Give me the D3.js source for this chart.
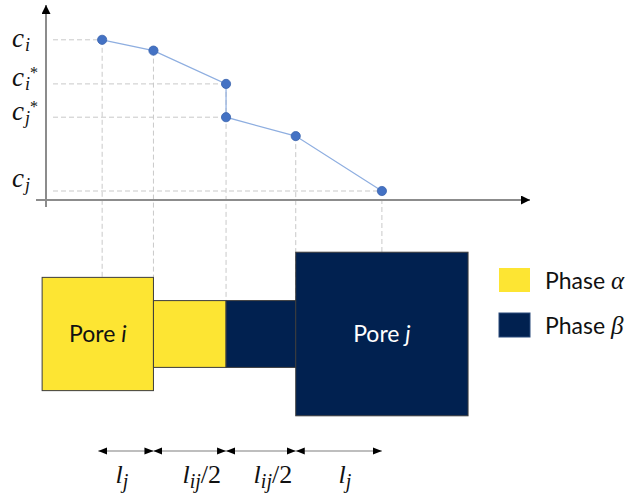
<!DOCTYPE html>
<html>
<head>
<meta charset="utf-8">
<script src="https://cdn.jsdelivr.net/npm/d3@7"></script>
<style>
  body { margin: 0; background: #fff; }
  svg { display: block; }
  .math { font-family: "Liberation Serif", serif; font-style: italic; }
  .txt { font-family: Lato, "Open Sans", sans-serif; }
</style>
</head>
<body>
<svg id="chart" width="631" height="498"></svg>
<script>
// concentration profile along the pore-throat-pore path
const pointX = [5.8, 11.1, 18.6, 18.6, 25.8, 34.7];
const pointC = [0.89, 0.83, 0.645, 0.46, 0.355, 0.05];

// labelled concentration levels (index into the points)
const levelIdx = [0, 2, 3, 5];
const levelSub = ["i", "i", "j", "j"];
const levelStar = [false, true, true, false];

// pore / throat segments
const segStart = [-0.4, 11.1, 18.6, 25.8];
const segEnd = [11.1, 18.6, 25.8, 43.6];
const segHalf = [5.85, 3.45, 3.45, 8.45];
const segPhase = ["alpha", "alpha", "beta", "beta"];
const segName = ["i", "", "", "j"];

// length annotations
const dimFrom = [5.4, 11.1, 18.6, 25.8];
const dimTo = [11.1, 18.6, 25.8, 34.7];
const dimSub = ["j", "ij", "ij", "j"];
const dimHalf = [false, true, true, false];

const phases = ["alpha", "beta"];
const phaseSymbol = ["α", "β"];
const phaseColor = { alpha: "#fde533", beta: "#012150" };

const svg = d3.select("#chart");

const x = d3.scaleLinear().domain([0, 50]).range([46, 530]);
const y = d3.scaleLinear().domain([0, 1]).range([200, 20]);
const yb = d3.scaleLinear().domain([-10, 10]).range([430.8, 237.2]);

const defs = svg.append("defs");
function marker(id, path, size) {
  defs.append("marker")
    .attr("id", id)
    .attr("viewBox", "0 0 10 10")
    .attr("refX", 10).attr("refY", 5)
    .attr("markerUnits", "userSpaceOnUse")
    .attr("markerWidth", size).attr("markerHeight", size)
    .attr("orient", "auto-start-reverse")
    .append("path").attr("d", path).attr("fill", "#000");
}
marker("dimHead", "M0,1 L10,5 L0,9 Z", 9);
marker("axisHead", "M0,0 L10,5 L0,10 Z", 9);

const pts = pointX.map((d, i) => ({ x: d, c: pointC[i] }));

//dashed guides
const guides = svg.append("g")
  .attr("stroke", "#c9c9c9")
  .attr("stroke-width", 1)
  .attr("stroke-dasharray", "5,3")
  .attr("fill", "none");

levelIdx.forEach(i => {
  guides.append("line")
    .attr("x1", x(0) + 7).attr("x2", x(pts[i].x))
    .attr("y1", y(pts[i].c)).attr("y2", y(pts[i].c));
});
pts.forEach((p, i) => {
  if (i === 3) return;
  guides.append("line")
    .attr("x1", x(p.x)).attr("x2", x(p.x))
    .attr("y1", y(p.c)).attr("y2", yb(0));
});

//axes
svg.append("line")
  .attr("x1", x(0) - 10).attr("x2", x(50))
  .attr("y1", y(0)).attr("y2", y(0))
  .attr("stroke", "#8c8c8c").attr("stroke-width", 2)
  .attr("marker-end", "url(#axisHead)");
svg.append("line")
  .attr("x1", x(0)).attr("x2", x(0))
  .attr("y1", y(0) + 7).attr("y2", 5)
  .attr("stroke", "#8c8c8c").attr("stroke-width", 2)
  .attr("marker-end", "url(#axisHead)");

//profile
const line = d3.line().x(d => x(d.x)).y(d => y(d.c));
svg.append("path")
  .attr("d", line(pts))
  .attr("fill", "none")
  .attr("stroke", "#8eaee0")
  .attr("stroke-width", 1.2);

svg.append("g").selectAll("circle")
  .data(pts)
  .join("circle")
  .attr("cx", d => x(d.x))
  .attr("cy", d => y(d.c))
  .attr("r", 4.6)
  .attr("fill", "#4472c4")
  .attr("stroke", "#3a63ad")
  .attr("stroke-width", 0.8);

//concentration labels
const labelShift = [7, 2, 3, -4];
levelIdx.forEach((idx, k) => {
  const base = y(pts[idx].c) + labelShift[k];
  const t = svg.append("text").attr("class", "math")
    .attr("x", 12).attr("y", base)
    .attr("font-size", 27).attr("fill", "#111");
  t.append("tspan").text("c");
  t.append("tspan").attr("font-size", 18).attr("dy", 4).attr("dx", 1).text(levelSub[k]);
  if (levelStar[k]) {
    t.append("tspan").attr("font-size", 16).attr("font-style", "normal")
      .attr("dx", 0).attr("dy", -12).text("*");
  }
});

//pores and throat
const segs = segStart.map((s, i) => ({ s, e: segEnd[i], h: segHalf[i], phase: segPhase[i], name: segName[i] }));
svg.append("g").selectAll("rect")
  .data(segs)
  .join("rect")
  .attr("x", d => x(d.s))
  .attr("y", d => yb(d.h))
  .attr("width", d => x(d.e) - x(d.s))
  .attr("height", d => yb(-d.h) - yb(d.h))
  .attr("fill", d => phaseColor[d.phase])
  .attr("stroke", "#3c3c3c")
  .attr("stroke-width", 1);

segs.filter(d => d.name).forEach(d => {
  const t = svg.append("text").attr("class", "txt")
    .attr("x", x((d.s + d.e) / 2)).attr("y", yb(0) + 8)
    .attr("text-anchor", "middle")
    .attr("font-size", 23)
    .attr("fill", d.phase === "beta" ? "#fff" : "#111");
  t.append("tspan").text("Pore ");
  t.append("tspan").attr("font-style", "italic").text(d.name);
});

//legend
phases.forEach((p, i) => {
  const ly = 268 + i * 45;
  svg.append("rect")
    .attr("x", 499).attr("y", ly)
    .attr("width", 31).attr("height", 24)
    .attr("fill", phaseColor[p])
    .attr("stroke", p === "beta" ? "#2a4a7a" : "none");
  const t = svg.append("text").attr("class", "txt")
    .attr("x", 545).attr("y", ly + 21)
    .attr("font-size", 23).attr("fill", "#111");
  t.append("tspan").text("Phase ");
  t.append("tspan").attr("class", "math").attr("font-size", 25).text(phaseSymbol[i]);
});

//length annotations
const dimY = 451;
const dimShift = [-4, 12, 12, 6];
dimFrom.forEach((a, i) => {
  svg.append("line")
    .attr("x1", x(a)).attr("x2", x(dimTo[i]))
    .attr("y1", dimY).attr("y2", dimY)
    .attr("stroke", "#7f7f7f").attr("stroke-width", 1.2)
    .attr("marker-start", "url(#dimHead)")
    .attr("marker-end", "url(#dimHead)");
  const t = svg.append("text").attr("class", "math")
    .attr("x", (x(a) + x(dimTo[i])) / 2 + dimShift[i]).attr("y", 483)
    .attr("text-anchor", "middle")
    .attr("font-size", 26).attr("fill", "#111");
  t.append("tspan").text("l");
  t.append("tspan").attr("font-size", 20).attr("dy", 5).text(dimSub[i]);
  if (dimHalf[i]) {
    t.append("tspan").attr("dy", -5).attr("font-style", "normal").text("/2");
  }
});
</script>
</body>
</html>
